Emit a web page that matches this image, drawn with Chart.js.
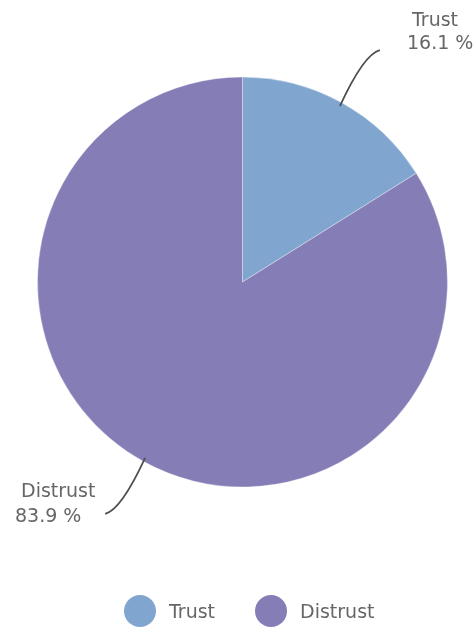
<!DOCTYPE html>
<html lang="en">
<head>
    <meta charset="UTF-8">
    <title>Trust vs Distrust</title>
    <script src="https://cdn.jsdelivr.net/npm/chart.js"></script>
    <style>
        html, body { margin: 0; padding: 0; background: #fff; }
        #wrap { width: 475px; height: 627px; position: relative; }
    </style>
</head>
<body>
    <div id="wrap"><canvas id="grafico"></canvas></div>

    <script>
        const categorias = ['Trust', 'Distrust'];
        const valores = [16.1, 83.9];
        const colores = ['#80a6cf', '#857db6'];

        const FUENTE = '"DejaVu Sans", sans-serif';
        const GRIS = '#666666';

        // posicion de cada etiqueta (dos lineas) junto al final de su linea guia
        const posEtiquetas = [
            { l1: [412, 26], l2: [407, 49] },
            { l1: [21, 497], l2: [15, 522] }
        ];

        // etiquetas con linea curva hacia cada porcion + leyenda propia abajo
        const etiquetasPie = {
            id: 'etiquetasPie',
            afterDraw(chart) {
                const ctx = chart.ctx;
                const arcs = chart.getDatasetMeta(0).data;
                ctx.save();
                ctx.strokeStyle = '#505050';
                ctx.lineWidth = 1.8;

                arcs.forEach((arc, i) => {
                    const mid = (arc.startAngle + arc.endAngle) / 2;
                    const r = arc.outerRadius;
                    const x0 = arc.x + Math.cos(mid) * (r - 4);
                    const y0 = arc.y + Math.sin(mid) * (r - 4);
                    const dir = Math.cos(mid) >= 0 ? 1 : -1;
                    const arriba = Math.sin(mid) < 0;
                    const x1 = x0 + dir * 40;
                    const y1 = y0 + (arriba ? -56 : 56);
                    ctx.beginPath();
                    ctx.moveTo(x0, y0);
                    ctx.quadraticCurveTo(x0 + dir * 24, y1 + (arriba ? 4 : -4), x1, y1);
                    ctx.stroke();

                    const p = posEtiquetas[i];
                    ctx.font = '19px ' + FUENTE;
                    ctx.fillStyle = GRIS;
                    ctx.textAlign = 'left';
                    ctx.textBaseline = 'alphabetic';
                    ctx.fillText(categorias[i], p.l1[0], p.l1[1]);
                    ctx.fillText(valores[i].toFixed(1) + ' %', p.l2[0], p.l2[1]);
                });

                // leyenda
                const yLeyenda = 611;
                let x = 124;
                ctx.font = '19px ' + FUENTE;
                categorias.forEach((cat, i) => {
                    ctx.beginPath();
                    ctx.fillStyle = colores[i];
                    ctx.arc(x + 16, yLeyenda, 16, 0, Math.PI * 2);
                    ctx.fill();
                    ctx.fillStyle = GRIS;
                    ctx.textAlign = 'left';
                    ctx.textBaseline = 'alphabetic';
                    ctx.fillText(cat, x + 45, yLeyenda + 7);
                    x += 45 + ctx.measureText(cat).width + 40;
                });
                ctx.restore();
            }
        };

        new Chart(document.getElementById('grafico'), {
            type: 'pie',
            data: {
                labels: categorias,
                datasets: [{
                    data: valores,
                    backgroundColor: colores,
                    borderColor: 'rgba(255,255,255,0.35)',
                    borderWidth: 1
                }]
            },
            options: {
                responsive: true,
                maintainAspectRatio: false,
                animation: false,
                layout: { padding: { top: 76, left: 37, right: 27, bottom: 139 } },
                plugins: {
                    legend: { display: false },
                    tooltip: { enabled: false }
                }
            },
            plugins: [etiquetasPie]
        });
    </script>
</body>
</html>
